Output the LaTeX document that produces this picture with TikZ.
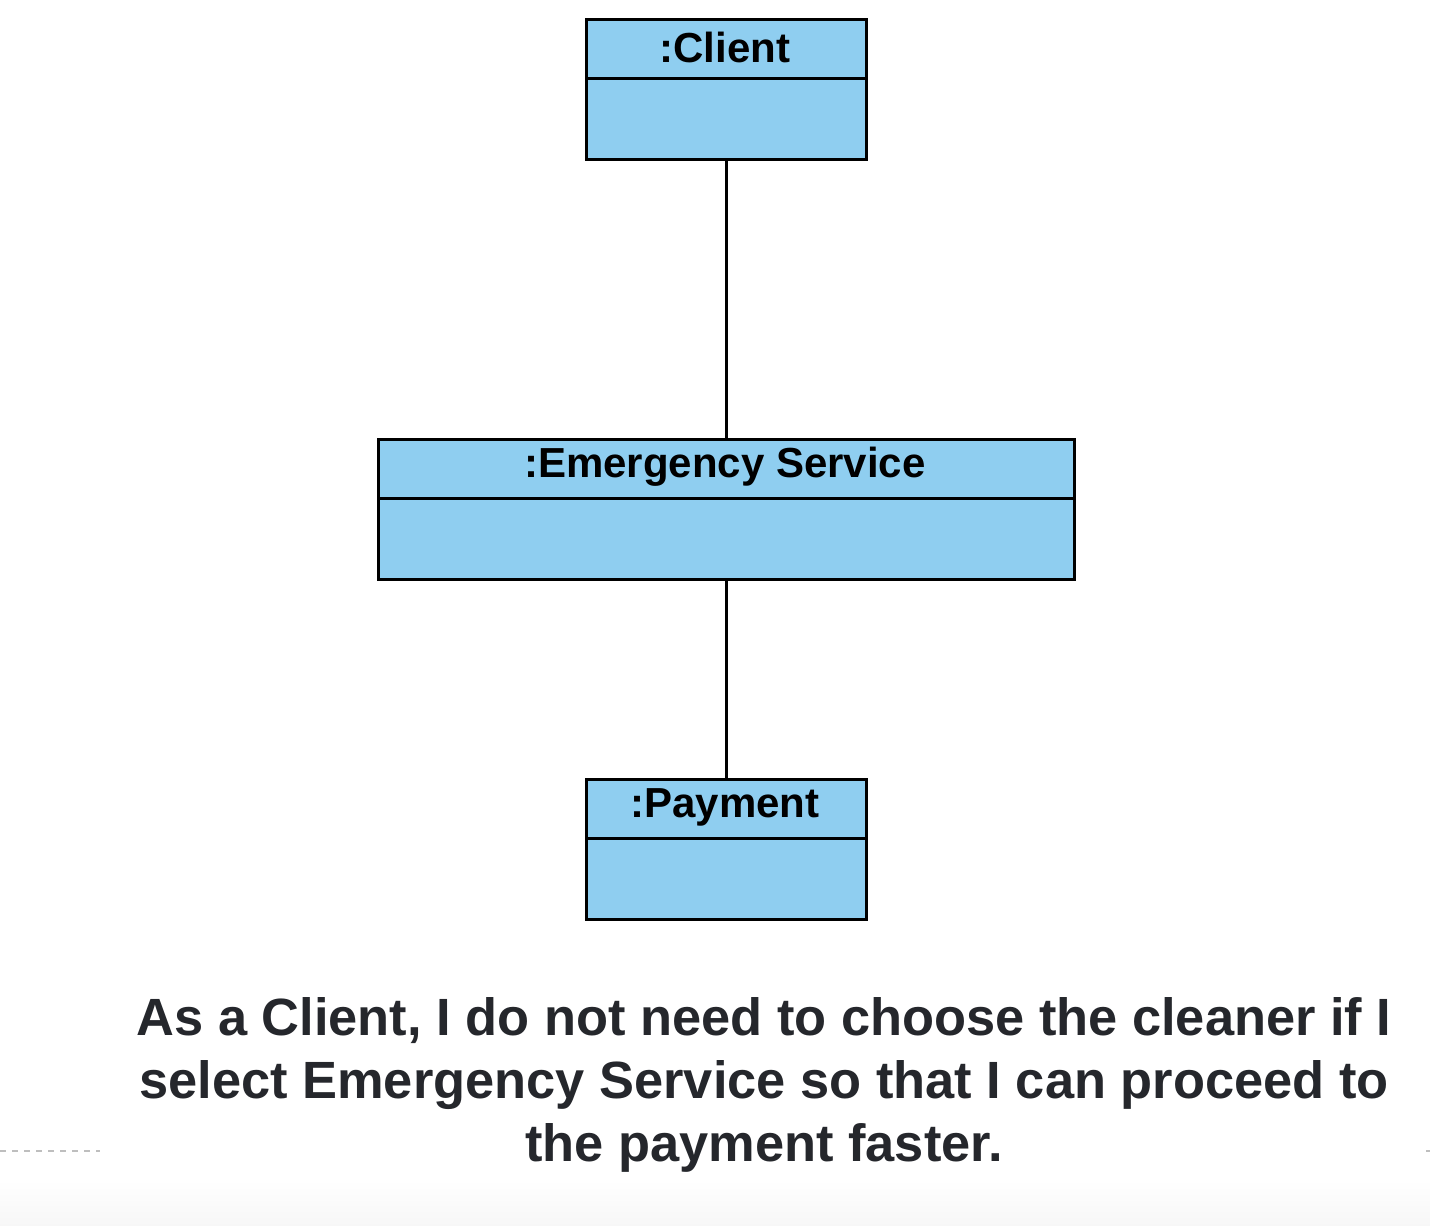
\documentclass[tikz,border=0pt]{standalone}
\usepackage{fontspec}
\setmainfont{Liberation Sans}
\definecolor{boxfill}{RGB}{143,206,240}
\definecolor{textdark}{RGB}{37,39,44}
\definecolor{dashgray}{RGB}{190,190,190}
\definecolor{bottomgray}{RGB}{247,247,247}
\begin{document}
\begin{tikzpicture}[x=0.5pt,y=-0.5pt,
  objbox/.style={draw=black,fill=boxfill,line width=1.5pt,inner sep=0pt,anchor=north west},
  divider/.style={line width=1.5pt},
  title/.style={font=\bfseries\fontsize{21}{24}\selectfont,text=black,inner sep=0pt},
  link/.style={line width=1.5pt},
  story/.style={font=\bfseries\fontsize{26.2}{31.5}\selectfont,text=textdark,align=center,inner sep=0pt}]
\useasboundingbox (0,0) rectangle (1430,1226);
\fill[white] (0,0) rectangle (1430,1226);
\shade[top color=white,bottom color=bottomgray] (0,1180) rectangle (1430,1226);
% dashed line
\draw[dashgray,line width=1pt,dash pattern=on 3pt off 3pt] (0,1151) -- (100,1151);
\draw[dashgray,line width=1pt] (1426,1151) -- (1430,1151);
% boxes
\node[objbox,minimum width=140pt,minimum height=70pt] (client) at (585,18) {};
\draw[divider] (585,78) -- (865,78);
\node[title] (clientT) at (725,47) {:Client};
\node[objbox,minimum width=348pt,minimum height=70pt] (emerg) at (377,438) {};
\draw[divider] (377,498) -- (1073,498);
\node[title] (emergT) at (725,467) {:Emergency Service};
\node[objbox,minimum width=140pt,minimum height=70pt] (pay) at (585,778) {};
\draw[divider] (585,838) -- (865,838);
\node[title] (payT) at (725,807) {:Payment};
% connectors
\draw[link] (client.south) -- (emerg.north);
\draw[link] (emerg.south) -- (pay.north);
% story text
\node[story] (story) at (764,1085) {As a Client, I do not need to choose the cleaner if I\\select Emergency Service so that I can proceed to\\the payment faster.};
\end{tikzpicture}
\end{document}
